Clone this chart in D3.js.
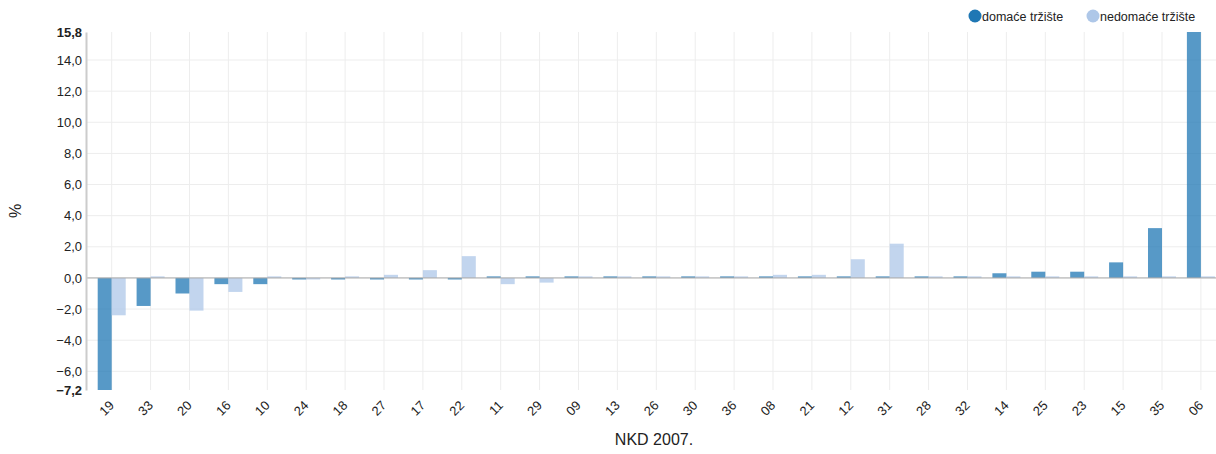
<!DOCTYPE html>
<html><head><meta charset="utf-8">
<script src="https://cdn.jsdelivr.net/npm/d3@7"></script>
<style>body{margin:0;background:#fff;font-family:Arial,"Liberation Sans",sans-serif;}</style>
</head><body><svg id="c" width="1216" height="454"></svg>
<script>
const categories = ["19","33","20","16","10","24","18","27","17","22","11","29","09","13","26","30","36","08","21","12","31","28","32","14","25","23","15","35","06"];
const domace =   [-7.2,-1.8,-1.0,-0.4,-0.4,-0.1,-0.1,-0.1,-0.1,-0.1,0.1,0.1,0.1,0.1,0.1,0.1,0.1,0.1,0.1,0.1,0.1,0.1,0.1,0.3,0.4,0.4,1.0,3.2,15.8];
const nedomace = [-2.4,0.1,-2.1,-0.9,0.1,-0.1,0.1,0.2,0.5,1.4,-0.4,-0.3,0.1,0.1,0.1,0.1,0.1,0.2,0.2,1.2,2.2,0.1,0.1,0.1,0.1,0.1,0.1,0.1,0.1];
const seriesNames = ["domaće tržište","nedomaće tržište"];
const yTicks = [-7.2,-6,-4,-2,0,2,4,6,8,10,12,14,15.8];
const xTitle = "NKD 2007.";
const yTitle = "%";

(function(){
const svg = d3.select("#c");
const colors = ["#1f77b4","#aec7e8"];
const mLeft = 86, mRight = 1216, mTop = 32, mBottom = 390;

const y = d3.scaleLinear().domain([-7.2,15.8]).range([mBottom, mTop]);
const x = d3.scaleBand().domain(categories).range([92.25, 1220.35]).padding(0);
const step = x.bandwidth();
const bw = step*0.36;
const fmt = v => d3.format(".1f")(v).replace(".", ",");

// horizontal grid
svg.append("g").selectAll("line").data(yTicks.filter(t=>t!==-7.2 && t!==15.8)).join("line")
  .attr("x1", mLeft).attr("x2", mRight).attr("y1", d=>y(d)).attr("y2", d=>y(d))
  .attr("stroke", "#ededed").attr("stroke-width", 1);
// vertical grid
svg.append("g").selectAll("line").data(categories).join("line")
  .attr("x1", d=>x(d)+step/2).attr("x2", d=>x(d)+step/2).attr("y1", mTop).attr("y2", mBottom)
  .attr("stroke", "#ededed").attr("stroke-width", 1);

// bars
const series = [domace, nedomace];
series.forEach((vals, si) => {
  svg.append("g").selectAll("rect").data(categories).join("rect")
    .attr("x", (d)=> x(d)+step/2 - bw + si*bw)
    .attr("width", bw)
    .attr("y", (d,i)=> y(Math.max(0, vals[i])))
    .attr("height", (d,i)=> Math.abs(y(vals[i]) - y(0)))
    .attr("fill", colors[si]).attr("fill-opacity", 0.75);
});

// zero line
svg.append("line").attr("x1", mLeft).attr("x2", mRight).attr("y1", y(0)).attr("y2", y(0))
  .attr("stroke", "#aaa").attr("stroke-width", 1);

// y axis
const yAxis = d3.axisLeft(y).tickValues(yTicks).tickFormat(fmt).tickSize(0).tickPadding(4);
const ga = svg.append("g").attr("transform", `translate(${mLeft},0)`).call(yAxis);
ga.select(".domain").attr("stroke", "#ccc").attr("stroke-width", 2);
ga.selectAll("text").attr("font-size", 13).attr("fill", "#222")
  .attr("font-family", "Arial, 'Liberation Sans', sans-serif")
  .attr("font-weight", d => (d===-7.2||d===15.8) ? "bold" : "normal");

// x axis labels
const xAxis = d3.axisBottom(x).tickSize(0).tickPadding(0);
const gx = svg.append("g").attr("transform", `translate(0,${mBottom})`).call(xAxis);
gx.select(".domain").remove();
gx.selectAll("text").attr("font-size", 13).attr("fill", "#222")
  .attr("font-family", "Arial, 'Liberation Sans', sans-serif")
  .attr("text-anchor", "end").attr("dy", "0.35em")
  .attr("transform", "translate(0,13) rotate(-45)");

// titles
svg.append("text").attr("x", 654).attr("y", 445).attr("text-anchor", "middle")
  .attr("font-size", 16).attr("fill", "#222").text(xTitle);
svg.append("text").attr("transform", "translate(21,211) rotate(-90)").attr("text-anchor", "middle")
  .attr("font-size", 16).attr("fill", "#222").text(yTitle);

// legend
const legX = [975, 1093];
seriesNames.forEach((n, i) => {
  svg.append("circle").attr("cx", legX[i]).attr("cy", 16).attr("r", 6.5).attr("fill", colors[i]);
  svg.append("text").attr("x", legX[i]+7).attr("y", 20.5).attr("font-size", 12.5).attr("fill", "#222").text(n);
});
})();
</script></body></html>
